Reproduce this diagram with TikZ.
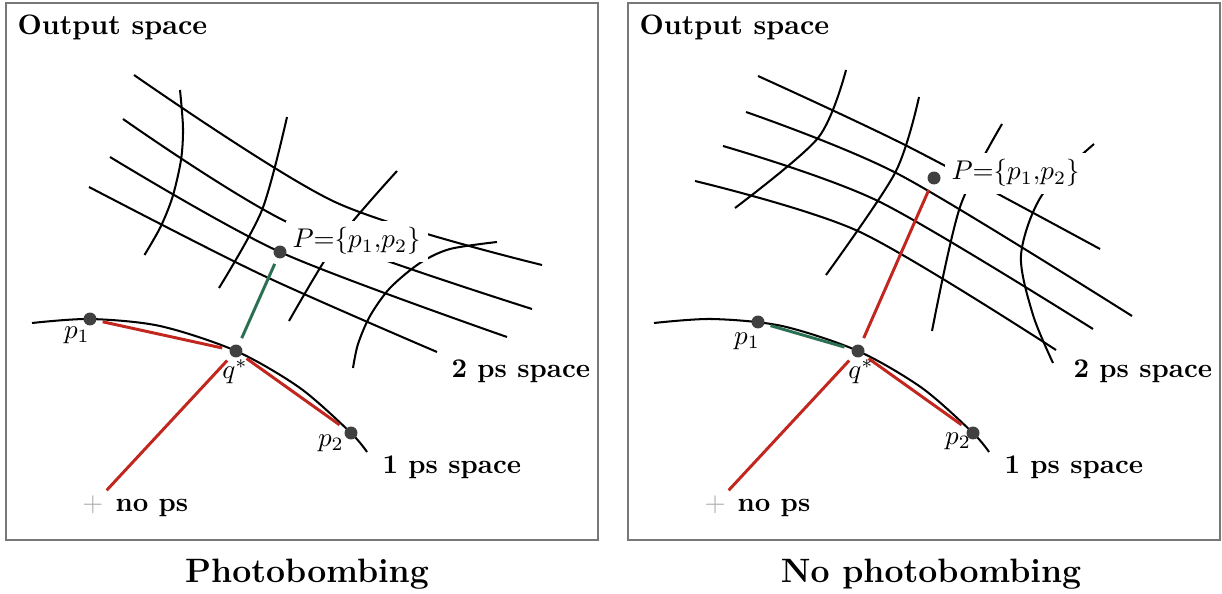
\documentclass[tikz,border=0pt]{standalone}
\usepackage{fontspec}
\definecolor{psred}{RGB}{194,39,31}
\definecolor{psgreen}{RGB}{44,112,84}
\definecolor{dotgray}{RGB}{64,64,64}
\definecolor{framegray}{RGB}{120,120,120}
\tikzset{panelframe/.style={draw=framegray,line width=0.5pt},
  gridline/.style={line width=0.75pt},
  pscurve/.style={line width=0.75pt},
  psdot/.style={circle,fill=dotgray,inner sep=0pt,minimum size=4.8pt},
  redlink/.style={psred,line width=1.1pt,shorten <=2.2pt,shorten >=2.6pt},
  greenlink/.style={redlink,psgreen},
  plabel/.style={fill=white,inner sep=2.6pt,anchor=base west},
  tag/.style={font=\bfseries,inner sep=0pt,anchor=base west},
  mlab/.style={inner sep=0pt},
  plusmark/.style={text=gray!65,inner sep=0pt},
  paneltitle/.style={font=\fontsize{12.5}{15}\selectfont\bfseries,anchor=base}}

\begin{document}
\begin{tikzpicture}[x=0.013cm,y=-0.013cm]
\useasboundingbox (0,0) rectangle (1222,594);
% left panel: photobombing
\begin{scope}
\draw[panelframe] (6,3) rectangle (598,540);
\node[tag,font=\fontsize{10.4}{12}\selectfont\bfseries] (L-out) at (17,35) {Output space};
% 2 ps space
\draw[gridline] plot[smooth] coordinates {(134,75) (335,202) (542,265)};
\draw[gridline] plot[smooth] coordinates {(123,119) (293,225) (532,309)};
\draw[gridline] plot[smooth] coordinates {(89,187) (260,274) (437,352)};
\draw[gridline] plot[smooth] coordinates {(180,90) (183,128) (181,160) (172.5,197) (160.5,227) (144.5,255)};
\draw[gridline] plot[smooth] coordinates {(287,117) (262,210) (219,288)};
\draw[gridline] plot[smooth] coordinates {(397,171) (338,240) (289,321)};
\draw[gridline] plot[smooth] coordinates {(497,242) (450,249) (420,263) (390,288) (370,316) (358,344) (353,368)};
\node[plabel] (L-Plab) at (285,248) {$P{=}\{p_1{,}p_2\}$};
\draw[gridline] plot[smooth] coordinates {(110,157) (280,252) (507,337)};
% 1 ps space
\draw[pscurve] plot[smooth] coordinates {(32,323) (90,319) (160,326) (236,351) (300,388) (351,433) (367,452)};
\node[psdot] (L-p1) at (90,319) {};
\node[psdot] (L-q) at (236,351) {};
\node[psdot] (L-p2) at (351,433) {};
\node[psdot] (L-P) at (280,252) {};
\node[plusmark] (L-nops) at (93,505) {$+$};
\draw[redlink] (L-p1) -- (L-q);
\draw[redlink] (L-q) -- (L-p2);
\draw[redlink] (L-q) -- (L-nops);
\draw[greenlink] (L-P) -- (L-q);
\node[mlab] (L-p1lab) at (77,335) {$p_1$};
\node[mlab] (L-qlab) at (235,372) {$q^*$};
\node[mlab] (L-p2lab) at (331,443) {$p_2$};
\node[tag] (L-nopslab) at (115,511) {no ps};
\node[tag] (L-one) at (382,473) {1 ps space};
\node[tag] (L-two) at (451,377) {2 ps space};
\node[paneltitle] (L-title) at (307,582) {Photobombing};
\end{scope}
% right panel: no photobombing
\begin{scope}[shift={(622,0)}]
\draw[panelframe] (6,3) rectangle (598,540);
\node[tag,font=\fontsize{10.4}{12}\selectfont\bfseries] (R-out) at (17,35) {Output space};
% 2 ps space
\draw[gridline] plot[smooth] coordinates {(136,76) (285,146) (478,249)};
\draw[gridline] plot[smooth] coordinates {(124,112) (278,175) (510,316)};
\draw[gridline] plot[smooth] coordinates {(101,146) (258,202) (471,329)};
\draw[gridline] plot[smooth] coordinates {(73,181) (238,232) (434,350)};
\draw[gridline] plot[smooth] coordinates {(224,70) (196,138) (113,208)};
\draw[gridline] plot[smooth] coordinates {(297,97) (273,173) (204,275)};
\draw[gridline] plot[smooth] coordinates {(380,124) (338,207) (310,331)};
\draw[gridline] plot[smooth] coordinates {(472,144) (420,195) (399,255) (411,315) (431,363)};
\node[plabel] (R-Plab) at (322,180) {$P{=}\{p_1{,}p_2\}$};
% 1 ps space
\draw[pscurve] plot[smooth] coordinates {(32,323) (90,319) (160,326) (236,351) (300,388) (351,433) (367,452)};
\node[psdot] (R-p1) at (136,322) {};
\node[psdot] (R-q) at (236,351) {};
\node[psdot] (R-p2) at (351,433) {};
\node[psdot] (R-P) at (312,178) {};
\node[plusmark] (R-nops) at (93,505) {$+$};
\draw[redlink] (R-P) -- (R-q);
\draw[greenlink] (R-p1) -- (R-q);
\draw[redlink] (R-q) -- (R-p2);
\draw[redlink] (R-q) -- (R-nops);
\node[mlab] (R-p1lab) at (125,341) {$p_1$};
\node[mlab] (R-qlab) at (239,372) {$q^*$};
\node[mlab] (R-p2lab) at (336,441) {$p_2$};
\node[tag] (R-nopslab) at (115,511) {no ps};
\node[tag] (R-one) at (382,473) {1 ps space};
\node[tag] (R-two) at (451,377) {2 ps space};
\node[paneltitle] (R-title) at (309,582) {No photobombing};
\end{scope}
\end{tikzpicture}
\end{document}
